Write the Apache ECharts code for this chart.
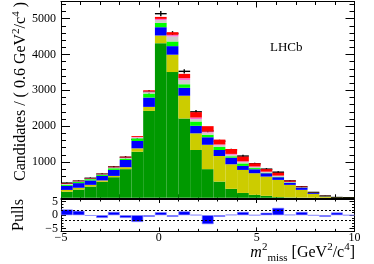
<!DOCTYPE html>
<html><head><meta charset="utf-8">
<script src="https://cdn.jsdelivr.net/npm/echarts@6/dist/echarts.min.js"></script>
<style>html,body{margin:0;padding:0;background:#fff}#c{width:374px;height:264px}</style>
</head><body><div id="c"></div>
<script>
// ---- data ----
const binCenters = [-4.7,-4.1,-3.5,-2.9,-2.3,-1.7,-1.1,-0.5,0.1,0.7,1.3,1.9,2.5,3.1,3.7,4.3,4.9,5.5,6.1,6.7,7.3,7.9,8.5,9.1,9.7];
const binWidth = 0.6;
const compGreen  = [170,230,315,445,575,800,1287,2427,4317,3511,2215,1334,800,453,250,135,83,55,20,10,5,2,0,0,0];
const compYellow = [50,50,46,40,36,55,94,111,214,484,635,466,680,714,686,643,603,537,480,351,217,109,40,8,3];
const compBlue   = [113,130,124,126,169,201,204,261,231,239,220,210,210,167,184,112,111,94,75,59,58,24,8,2,0];
const compLime   = [32,30,35,29,45,39,75,111,122,130,100,120,70,86,40,70,33,14,15,10,5,3,1,0,0];
const compGray   = [20,18,15,15,20,20,25,40,78,139,120,70,60,50,40,40,30,20,20,10,10,2,1,0,0];
const compPink   = [7,7,7,7,10,13,15,20,33,47,50,40,30,20,25,20,15,10,10,10,5,3,1,0,0];
const compRed    = [13,10,10,10,15,20,25,32,55,73,120,150,150,135,137,130,89,70,80,31,14,4,4,0,0];
const dataCounts = [410,465,545,660,860,1130,1630,2955,5140,4585,3530,2400,1865,1580,1334,1165,950,800,715,470,305,150,50,8,3];
const pulls      = [2.1,1.6,-0.2,-1.0,1.2,-1.0,-2.5,-0.6,1.1,-0.6,1.4,0.1,-3.3,-0.6,0.2,1.2,0,0.9,2.7,0.2,1.2,-0.1,-0.6,1.0,0];
const yMajorTicks = [0,1000,2000,3000,4000,5000];
const yLabelTicks = [1000,2000,3000,4000,5000];
const yMinorTicks = [200,400,600,800,1200,1400,1600,1800,2200,2400,2600,2800,3200,3400,3600,3800,4200,4400,4600,4800,5200,5400];
const pullMajorTicks = [-5,0,5];
const pullMinorTicks = [-4,-3,-2,-1,1,2,3,4];
const pullLines = [2,-2];

const FONT = 'Liberation Serif';
const fmtMinus = v => String(v).replace('-', '\u2212');

const chart = echarts.init(document.getElementById('c'), null, {renderer:'canvas'});

function valX(grid, pos, labels){
  return {type:'value', gridIndex:grid, position:pos, min:-5, max:10, interval:5,
    axisLine:{show:true, onZero:false, lineStyle:{color:'#000', width:1}},
    axisTick:{show:true, inside:true, length:grid===0?6:4, lineStyle:{color:'#000'}},
    minorTick:{show:true, splitNumber:5, length:grid===0?3.5:2.5, lineStyle:{color:'#000'}},
    axisLabel:{show:labels, margin:0, color:'#000', fontFamily:FONT, fontSize:12, formatter:fmtMinus},
    splitLine:{show:false}, minorSplitLine:{show:false}};
}
function catX(grid){
  return {type:'category', gridIndex:grid, data:binCenters, boundaryGap:true, show:false};
}
function valY(grid, pos, min, max, ticks, len, labels, labelVals, margin, line){
  return {type:'value', gridIndex:grid, position:pos, min:min, max:max,
    axisLine:{show:line, onZero:false, lineStyle:{color:'#000', width:1}},
    axisTick:{show:true, inside:true, length:len, customValues:ticks, lineStyle:{color:'#000'}},
    axisLabel:{show:labels, customValues:labelVals, margin:margin, color:'#000', fontFamily:FONT, fontSize:12, formatter:fmtMinus},
    splitLine:{show:false}};
}

const colors = ['#009900','#cccc00','#0000ff','#00ff00','#cccccc','#ff66cc','#ff0000'];
const comps = [compGreen, compYellow, compBlue, compLime, compGray, compPink, compRed];

const series = comps.map((arr, i) => ({
  type:'bar', xAxisIndex:2, yAxisIndex:0, stack:'mc', data:arr,
  barCategoryGap:'0%', barGap:'0%', itemStyle:{color:colors[i]}, silent:true
}));

series.push({
  type:'custom', xAxisIndex:0, yAxisIndex:0, silent:true,
  data: binCenters.map((c,i)=>[c, dataCounts[i]]),
  renderItem: function(params, api){
    const xc = api.value(0), y = api.value(1), e = Math.sqrt(y);
    const pL = api.coord([xc - binWidth/2, y]);
    const pR = api.coord([xc + binWidth/2, y]);
    const pT = api.coord([xc, y + e]);
    const pB = api.coord([xc, Math.max(0, y - e)]);
    return {type:'group', children:[
      {type:'line', shape:{x1:pL[0], y1:pL[1], x2:pR[0], y2:pR[1]}, style:{stroke:'#000', lineWidth:1.4}},
      {type:'line', shape:{x1:pT[0], y1:pT[1], x2:pB[0], y2:pB[1]}, style:{stroke:'#000', lineWidth:1.4}}
    ]};
  }
});

series.push({
  type:'bar', xAxisIndex:5, yAxisIndex:4, data:pulls, barCategoryGap:'0%', silent:true,
  itemStyle:{color:'#0000ff', borderColor:'#8080ff', borderWidth:0.6},
  markLine:{silent:true, symbol:'none', label:{show:false},
    lineStyle:{color:'#000', type:[2,2], width:1},
    data: pullLines.map(v=>({yAxis:v}))}
});

const option = {
  animation:false,
  backgroundColor:'#fff',
  grid:[
    {left:61, right:19.5, top:1.5, height:196.3},
    {left:61, right:19.5, top:199, height:32.4}
  ],
  xAxis:[
    valX(0,'bottom',false), valX(0,'top',false), catX(0),
    valX(1,'bottom',true), valX(1,'top',false), catX(1)
  ],
  yAxis:[
    valY(0,'left',0,5480,yMajorTicks,9,true,yLabelTicks,5,true),
    valY(0,'left',0,5480,yMinorTicks,5,false,[],5,false),
    valY(0,'right',0,5480,yMajorTicks,9,false,[],5,true),
    valY(0,'right',0,5480,yMinorTicks,5,false,[],5,false),
    valY(1,'left',-6,6,pullMajorTicks,5,true,pullMajorTicks,3,true),
    valY(1,'left',-6,6,pullMinorTicks,2.5,false,[],3,false),
    valY(1,'right',-6,6,pullMajorTicks,5,false,[],3,true),
    valY(1,'right',-6,6,pullMinorTicks,2.5,false,[],3,false)
  ],
  series: series,
  graphic:[
    {type:'text', x:21, y:2, rotation:Math.PI/2, silent:true,
      style:{text:'Candidates / ( 0.6 GeV{sup|2}/c{sup|4} )', align:'right', verticalAlign:'middle',
        fontFamily:FONT, fontSize:16, fill:'#000', lineHeight:20,
        rich:{sup:{fontFamily:FONT, fontSize:11, lineHeight:12, verticalAlign:'top', fill:'#000'}}}},
    {type:'text', x:19, y:215, rotation:Math.PI/2, silent:true,
      style:{text:'Pulls', align:'center', verticalAlign:'middle', fontFamily:FONT, fontSize:16, fill:'#000'}},
    {type:'text', x:270, y:48, silent:true,
      style:{text:'LHCb', align:'left', verticalAlign:'middle', fontFamily:FONT, fontSize:13, fill:'#000'}},
    {type:'text', x:355, y:253, silent:true,
      style:{text:'{it|m}{sup|2}{sub|miss} [GeV{sup|2}/c{sup|4}]', align:'right', verticalAlign:'middle',
        fontFamily:FONT, fontSize:16, fill:'#000', lineHeight:22,
        rich:{
          it:{fontFamily:FONT, fontStyle:'italic', fontSize:16, lineHeight:22, fill:'#000'},
          sup:{fontFamily:FONT, fontSize:11, lineHeight:14, verticalAlign:'top', fill:'#000'},
          sub:{fontFamily:FONT, fontSize:11, lineHeight:11, verticalAlign:'bottom', fill:'#000'}
        }}}
  ]
};
chart.setOption(option);
</script>
</body></html>
